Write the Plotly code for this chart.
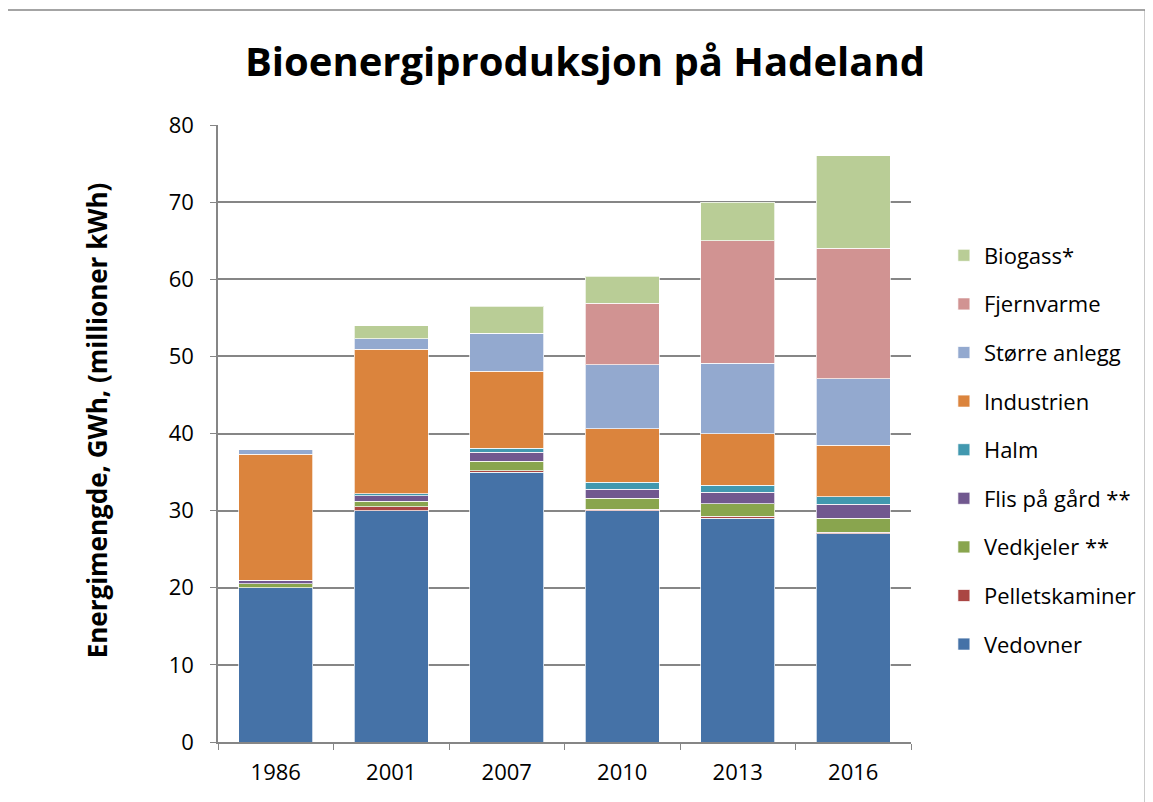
import plotly.graph_objects as go

# data (GWh)
years = ["1986", "2001", "2007", "2010", "2013", "2016"]

vedovner = [20.0, 30.0, 35.0, 30.0, 29.0, 27.0]
pelletskaminer = [0.0, 0.5, 0.2, 0.2, 0.3, 0.2]
vedkjeler = [0.5, 0.7, 1.2, 1.4, 1.6, 1.8]
flis_paa_gaard = [0.5, 0.7, 1.2, 1.2, 1.5, 1.8]
halm = [0.0, 0.3, 0.5, 0.9, 0.9, 1.0]
industrien = [16.3, 18.7, 10.0, 6.9, 6.7, 6.7]
storre_anlegg = [0.6, 1.4, 4.9, 8.3, 9.1, 8.6]
fjernvarme = [0.0, 0.0, 0.0, 8.0, 15.9, 16.9]
biogass = [0.0, 1.7, 3.5, 3.5, 5.0, 12.0]

series = [
    ("Vedovner", vedovner, "#4572A7"),
    ("Pelletskaminer", pelletskaminer, "#AA4643"),
    ("Vedkjeler **", vedkjeler, "#89A54E"),
    ("Flis på gård **", flis_paa_gaard, "#71588F"),
    ("Halm", halm, "#4198AF"),
    ("Industrien", industrien, "#DB843D"),
    ("Større anlegg", storre_anlegg, "#93A9CF"),
    ("Fjernvarme", fjernvarme, "#D19392"),
    ("Biogass*", biogass, "#B9CD96"),
]

FONT = "Open Sans"

# page body has an 8px margin, so the figure is drawn 8px smaller
W, H = 1145, 794
L, R, T, B = 210, 240, 117, 60
pw, ph = W - L - R, H - T - B

fig = go.Figure()
for i, (name, vals, color) in enumerate(series):
    fig.add_trace(
        go.Bar(
            name=name,
            x=years,
            y=vals,
            legendgroup=name,
            legendrank=100 - i,
            marker=dict(color=color, line=dict(color="rgba(255,255,255,0.7)", width=1)),
        )
    )

fig.update_layout(
    barmode="stack",
    bargap=0.36,
    width=W,
    height=H,
    margin=dict(l=L, r=R, t=T, b=B, pad=0),
    paper_bgcolor="white",
    plot_bgcolor="white",
    font=dict(family=FONT, color="black", size=22),
    title=dict(
        text="<b>Bioenergiproduksjon på Hadeland</b>",
        x=577 / W,
        xanchor="center",
        y=1 - 54 / H,
        yanchor="middle",
        font=dict(family=FONT, size=40, color="black"),
    ),
    legend=dict(
        traceorder="grouped",
        tracegroupgap=17,
        x=(938 - L) / pw,
        xanchor="left",
        y=(734 - 442) / ph,
        yanchor="middle",
        font=dict(family=FONT, size=22),
        itemwidth=30,
        bgcolor="rgba(0,0,0,0)",
    ),
    xaxis=dict(
        type="category",
        showgrid=False,
        showline=True,
        linecolor="#868686",
        linewidth=1.5,
        ticks="outside",
        tickson="boundaries",
        ticklen=6,
        tickcolor="#868686",
        tickfont=dict(size=22),
        ticklabelstandoff=10,
    ),
    yaxis=dict(
        range=[0, 80],
        dtick=10,
        showgrid=True,
        gridcolor="#868686",
        gridwidth=2,
        showline=True,
        linecolor="#868686",
        linewidth=1.5,
        ticks="outside",
        ticklen=6,
        tickcolor="#868686",
        tickfont=dict(size=22),
        ticklabelstandoff=12,
        zeroline=False,
    ),
    annotations=[
        dict(
            text="<b>Energimengde, GWh, (millioner kWh)</b>",
            textangle=-90,
            xref="paper",
            yref="paper",
            x=(89 - L) / pw,
            y=(734 - 412) / ph,
            xanchor="center",
            yanchor="middle",
            showarrow=False,
            font=dict(family=FONT, size=26, color="black"),
        )
    ],
    shapes=[
        dict(
            type="rect",
            xref="paper",
            yref="paper",
            x0=(-4 - L) / pw,
            x1=(1140 - L) / pw,
            y0=(734 - 810) / ph,
            y1=(734 - 2) / ph,
            line=dict(color="#868686", width=1.5),
            layer="below",
        )
    ],
)

fig.write_html("out.html")
